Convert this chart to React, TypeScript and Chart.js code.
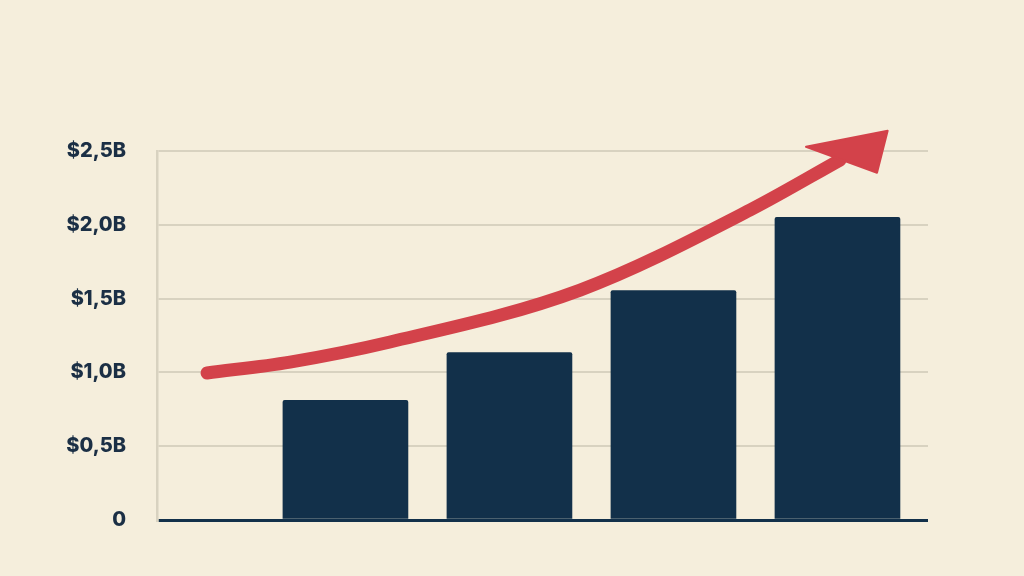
import React, { useEffect, useRef } from "react";
import { Chart, registerables } from "chart.js";

Chart.register(...registerables);

// Bars (billions of dollars), positioned at x = 1..4 (slot 0 is empty)
const barPositions = [1, 2, 3, 4];
const barValues = [0.81, 1.135, 1.555, 2.05];

// Growth arrow path (x in slot units, y in billions)
const arrowX = [0.156, 0.662, 1.272, 2.431, 3.467, 4.016];
const arrowY = [0.996, 1.07, 1.206, 1.558, 2.1, 2.439];

// Arrowhead triangle: tip, left barb, right barb
const headX = [4.306, 3.808, 4.241];
const headY = [2.637, 2.529, 2.353];

const yTickValues = [0, 0.5, 1.0, 1.5, 2.0, 2.5];
const yTickLabels = ["0", "$0,5B", "$1,0B", "$1,5B", "$2,0B", "$2,5B"];

const BG = "#f5eedc";
const NAVY = "#12304a";
const RED = "#d3424a";
const GRID = "#d8d2c0";

const arrowHeadPlugin = {
  id: "arrowHead",
  afterDatasetsDraw(chart: any) {
    const xs = chart.scales.x;
    const ys = chart.scales.y;
    const ctx = chart.ctx;
    ctx.save();
    ctx.fillStyle = RED;
    ctx.beginPath();
    headX.forEach((hx, i) => {
      const px = xs.getPixelForValue(hx);
      const py = ys.getPixelForValue(headY[i]);
      if (i === 0) ctx.moveTo(px, py);
      else ctx.lineTo(px, py);
    });
    ctx.closePath();
    ctx.lineJoin = "round";
    ctx.lineWidth = 2;
    ctx.strokeStyle = RED;
    ctx.fill();
    ctx.stroke();
    ctx.restore();
  },
};

export default function App() {
  const ref = useRef<HTMLCanvasElement | null>(null);

  useEffect(() => {
    if (!ref.current) return;
    const chart = new Chart(ref.current, {
      type: "bar",
      data: {
        datasets: [
          {
            type: "line",
            data: arrowX.map((x, i) => ({ x, y: arrowY[i] })),
            borderColor: RED,
            borderWidth: 13,
            borderCapStyle: "round",
            borderJoinStyle: "round",
            pointRadius: 0,
            cubicInterpolationMode: "monotone",
            fill: false,
            clip: false,
            order: 0,
          } as any,
          {
            type: "bar",
            data: barPositions.map((x, i) => ({ x, y: barValues[i] })),
            backgroundColor: NAVY,
            barThickness: 125,
            borderRadius: 2,
            borderSkipped: "bottom",
            order: 1,
          } as any,
        ],
      },
      options: {
        animation: false,
        responsive: true,
        maintainAspectRatio: false,
        layout: { padding: { left: 0, top: 151, right: 96, bottom: 56 } },
        plugins: { legend: { display: false }, tooltip: { enabled: false } },
        scales: {
          x: {
            type: "linear",
            min: -0.149,
            max: 4.552,
            offset: false,
            display: false,
            grid: { offset: false },
          },
          y: {
            min: 0,
            max: 2.5,
            afterBuildTicks: (scale: any) => {
              scale.ticks = yTickValues.map((v) => ({ value: v }));
            },
            afterFit: (scale: any) => {
              scale.width = 157;
            },
            border: { display: true, color: GRID, width: 2.5 },
            grid: {
              drawTicks: false,
              color: (c: any) => (c.tick && c.tick.value === 0 ? NAVY : GRID),
              lineWidth: (c: any) => (c.tick && c.tick.value === 0 ? 3 : 2),
            },
            ticks: {
              padding: 31,
              color: "#1b2f45",
              font: { family: "Inter", weight: "800", size: 20 },
              callback: (v: any) => {
                const idx = yTickValues.findIndex((t) => Math.abs(t - Number(v)) < 1e-6);
                return idx >= 0 ? yTickLabels[idx] : "";
              },
            },
          },
        },
      },
      plugins: [arrowHeadPlugin],
    });
    return () => chart.destroy();
  }, []);

  return (
    <div
      style={{
        position: "fixed",
        left: 0,
        top: 0,
        width: 1024,
        height: 576,
        background: BG,
      }}
    >
      <canvas ref={ref} />
    </div>
  );
}
